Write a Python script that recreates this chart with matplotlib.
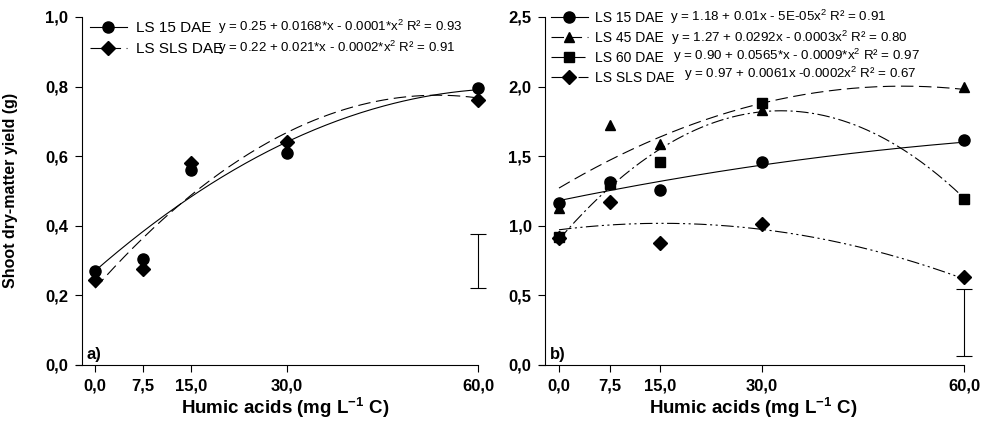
import numpy as np
import matplotlib
matplotlib.use("Agg")
import matplotlib.pyplot as plt
from matplotlib.ticker import FuncFormatter

plt.rcParams['font.family'] = ['Liberation Sans', 'DejaVu Sans']
plt.rcParams['mathtext.fontset'] = 'custom'
plt.rcParams['mathtext.rm'] = 'Liberation Sans'
plt.rcParams['mathtext.bf'] = 'Liberation Sans:bold'
plt.rcParams['mathtext.it'] = 'Liberation Sans:italic'
plt.rcParams['mathtext.default'] = 'regular'
plt.rcParams['lines.scale_dashes'] = False

# humic acid doses (mg L-1 C)
doses = [0, 7.5, 15, 30, 60]

# panel a) measured points
a_ls15 = [0.27, 0.305, 0.56, 0.61, 0.795]
a_sls = [0.245, 0.275, 0.58, 0.64, 0.76]
# fitted quadratics (c0, c1, c2) as drawn
a_fit_ls15 = [0.27, 0.016, -0.000122]
a_fit_sls = [0.22, 0.0207, -0.000193]
a_lsd = [0.222, 0.377]
a_eq = ["y = 0.25 + 0.0168*x - 0.0001*x$^2$ R² = 0.93",
        "y = 0.22 + 0.021*x - 0.0002*x$^2$ R² = 0.91"]

# panel b) measured points
b_ls15 = [1.16, 1.316, 1.254, 1.455, 1.615]
b_ls45 = [1.13, 1.723, 1.587, 1.831, 1.994]
b_ls60 = [0.915, 1.30, 1.455, 1.879, 1.189]
b_sls = [0.91, 1.172, 0.877, 1.011, 0.631]
b_fit_ls15 = [1.18, 0.01, -0.00005]
b_fit_ls45 = [1.27, 0.0288, -0.000283]
b_fit_ls60 = [0.90, 0.0563, -0.000856]
b_fit_sls = [0.97, 0.0061, -0.0002]
b_lsd = [0.06, 0.542]
b_eq = ["y = 1.18 + 0.01x - 5E-05x$^2$ R² = 0.91",
        "y = 1.27 + 0.0292x - 0.0003x$^2$ R² = 0.80",
        "y = 0.90 + 0.0565*x - 0.0009*x$^2$ R² = 0.97",
        "y = 0.97 + 0.0061x -0.0002x$^2$ R² = 0.67"]

xtick_labels = ["0,0", "7,5", "15,0", "30,0", "60,0"]

solid = '-'
dash = (0, (9, 4))
dashdot = (0, (9, 2.5, 1.5, 2.5))
dashdotdot = (0, (9, 2.5, 1.5, 2.5, 1.5, 2.5))

fig = plt.figure(figsize=(9.82, 4.25), dpi=100)
ax_a = fig.add_axes([0.0774, 0.1419, 0.4094, 0.8181])
ax_b = fig.add_axes([0.5486, 0.1419, 0.4334, 0.8181])

xs = np.linspace(0, 60, 200)
comma = FuncFormatter(lambda v, p: ("%.1f" % v).replace('.', ','))


def quad(c):
    return c[0] + c[1] * xs + c[2] * xs ** 2


def series(ax, y, fit, marker, ls, label, ms=8):
    ax.plot(xs, quad(fit), color='black', lw=0.8, ls=ls, clip_on=False)
    ax.plot(doses, y, ls='none', marker=marker, ms=ms, color='black', clip_on=False, zorder=3)
    # legend proxy
    return ax.plot([], [], color='black', lw=0.8, ls=ls, marker=marker, ms=ms, label=label)[0]


def style(ax, ymax, ystep, letter, xlab_x):
    ax.set_xlim(-3, 60)
    ax.set_ylim(0, ymax)
    ax.spines['top'].set_visible(False)
    ax.spines['right'].set_visible(False)
    ax.spines['left'].set_position(('data', -2))
    for s in ('left', 'bottom'):
        ax.spines[s].set_linewidth(0.8)
    ax.set_xticks(doses)
    ax.set_xticklabels(xtick_labels)
    ax.set_yticks(np.arange(0, ymax + 1e-9, ystep))
    ax.yaxis.set_major_formatter(comma)
    ax.tick_params(direction='out', length=5, width=0.8, labelsize=12, pad=5)
    for t in ax.get_xticklabels() + ax.get_yticklabels():
        t.set_fontweight('bold')
    ax.text(0.027, 0.03, letter, transform=ax.transAxes, fontsize=12, fontweight='bold',
            ha='left', va='center')
    ax.text(xlab_x, -0.125, r'Humic acids (mg L$^{\mathbf{-1}}$ C)', transform=ax.transAxes,
            fontsize=13.5, fontweight='bold', ha='center', va='center')


# ---- panel a
h1 = series(ax_a, a_ls15, a_fit_ls15, 'o', solid, 'LS 15 DAE')
h2 = series(ax_a, a_sls, a_fit_sls, 'D', dash, 'LS SLS DAE', ms=7.5)
ax_a.errorbar([60], [np.mean(a_lsd)], yerr=[(a_lsd[1] - a_lsd[0]) / 2], color='black',
              lw=0.8, capsize=5.5, capthick=0.8, clip_on=False)
style(ax_a, 1.0, 0.2, 'a)', 0.52)
ax_a.set_ylabel('Shoot dry-matter yield (g)', fontsize=11.5, fontweight='bold')
ax_a.yaxis.set_label_coords(-0.145, 0.5)
ax_a.legend(handles=[h1, h2], loc='upper left', bbox_to_anchor=(0.0197, 1.005), frameon=False,
            fontsize=11, handlelength=2.4, handletextpad=0.6, labelspacing=0.43,
            borderaxespad=0)
for y, eq in zip([0.971, 0.911], a_eq):
    ax_a.text(0.353, y, eq, transform=ax_a.transAxes, fontsize=9.5, ha='left', va='center')

# ---- panel b
g1 = series(ax_b, b_ls15, b_fit_ls15, 'o', solid, 'LS 15 DAE')
g2 = series(ax_b, b_ls45, b_fit_ls45, '^', dash, 'LS 45 DAE', ms=7.5)
g3 = series(ax_b, b_ls60, b_fit_ls60, 's', dashdot, 'LS 60 DAE', ms=6.5)
g4 = series(ax_b, b_sls, b_fit_sls, 'D', dashdotdot, 'LS SLS DAE', ms=7.5)
ax_b.errorbar([60], [np.mean(b_lsd)], yerr=[(b_lsd[1] - b_lsd[0]) / 2], color='black',
              lw=0.8, capsize=5.5, capthick=0.8, clip_on=False)
style(ax_b, 2.5, 0.5, 'b)', 0.505)
ax_b.legend(handles=[g1, g2, g3, g4], loc='upper left', bbox_to_anchor=(0.0158, 1.034),
            frameon=False, fontsize=10, handlelength=2.66, handletextpad=0.5,
            labelspacing=0.44, borderaxespad=0)
for x, y, eq in zip([0.3085, 0.311, 0.315, 0.341], [0.999, 0.940, 0.887, 0.836], b_eq):
    ax_b.text(x, y, eq, transform=ax_b.transAxes, fontsize=9.6, ha='left', va='center')

fig.savefig('out.png', dpi=100)
